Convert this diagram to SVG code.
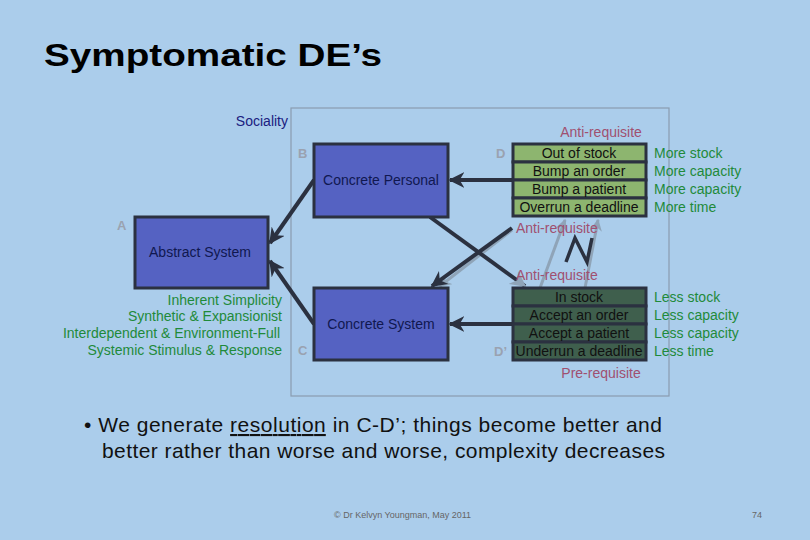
<svg xmlns="http://www.w3.org/2000/svg" width="810" height="540" viewBox="0 0 810 540">
<defs>
<style>
text{font-family:"Liberation Sans",Arial,sans-serif}
.box{fill:#5562c2;stroke:#2b3140;stroke-width:3}
.bl{font-size:14px;fill:#101850;text-anchor:middle}
.lt{font-size:13px;fill:#9aa2b0;font-weight:bold}
.gr{font-size:14px;fill:#1f8a3a}
.pk{font-size:14px;fill:#a05070}
.row1{fill:#8db56f;stroke:#2b3140;stroke-width:3}
.row2{fill:#3f5f4d;stroke:#2b3140;stroke-width:3}
.rt{font-size:14px;fill:#111;text-anchor:middle}
.ln{stroke:#2b3140;stroke-width:4;fill:none}
.lg{stroke:#8fa4b8;stroke-width:3;fill:none}
</style>
<marker id="ah" viewBox="0 0 10 10" refX="9" refY="5" markerWidth="4" markerHeight="4" orient="auto"><path d="M0,0L10,5L0,10L3,5z" fill="#2b3140"/></marker>
<marker id="ag" viewBox="0 0 10 10" refX="9" refY="5" markerWidth="4" markerHeight="4" orient="auto"><path d="M0,0L10,5L0,10L3,5z" fill="#8fa4b8"/></marker>
</defs>
<rect width="810" height="540" fill="#abcdeb"/>
<text x="44" y="66" font-size="32" font-weight="bold" fill="#000" textLength="338" lengthAdjust="spacingAndGlyphs">Symptomatic DE’s</text>
<rect x="291" y="108" width="378" height="288" fill="none" stroke="#8a9cb0" stroke-width="1.2"/>
<text x="288" y="126" font-size="14" fill="#1a2080" text-anchor="end">Sociality</text>
<g id="connectors">
<line class="lg" x1="540" y1="288" x2="565" y2="220" marker-end="url(#ag)"/>
<line class="lg" x1="585" y1="288" x2="598" y2="220" marker-end="url(#ag)"/>
<line class="lg" x1="512" y1="230" x2="440" y2="286" marker-end="url(#ag)"/>
<polyline class="ln" style="stroke-width:3.5" points="566,262 575,238 587,262 592,238"/>
<line class="ln" x1="513" y1="180" x2="450" y2="180" marker-end="url(#ah)"/>
<line class="ln" x1="513" y1="324" x2="450" y2="324" marker-end="url(#ah)"/>
<line class="ln" x1="314" y1="180" x2="270" y2="243" marker-end="url(#ah)"/>
<line class="ln" x1="314" y1="324" x2="270" y2="261" marker-end="url(#ah)"/>
<line class="ln" x1="512" y1="228" x2="432" y2="286" marker-end="url(#ah)"/>
<line class="ln" x1="430" y1="217" x2="525" y2="286" marker-end="url(#ag)"/>
</g>
<g id="A"><rect class="box" x="135" y="217" width="133" height="71"/><text class="bl" x="200" y="257">Abstract System</text><text class="lt" x="117" y="230">A</text>
<g class="gr" text-anchor="end"><text x="282" y="305">Inherent Simplicity</text><text x="282" y="321">Synthetic &amp; Expansionist</text><text x="280" y="338">Interdependent &amp; Environment-Full</text><text x="282" y="355">Systemic Stimulus &amp; Response</text></g></g>
<g id="B"><rect class="box" x="314" y="144" width="134" height="73"/><text class="bl" x="381" y="185">Concrete Personal</text><text class="lt" x="298" y="158">B</text></g>
<g id="C"><rect class="box" x="314" y="288" width="134" height="72"/><text class="bl" x="381" y="329">Concrete System</text><text class="lt" x="298" y="355">C</text></g>
<g id="D">
<text class="pk" x="601" y="137" text-anchor="middle">Anti-requisite</text>
<text class="lt" x="496" y="158">D</text>
<rect class="row1" x="513" y="144" width="133" height="18"/><rect class="row1" x="513" y="162" width="133" height="18"/><rect class="row1" x="513" y="180" width="133" height="18"/><rect class="row1" x="513" y="198" width="133" height="18"/>
<text class="rt" x="579" y="158">Out of stock</text><text class="rt" x="579" y="176">Bump an order</text><text class="rt" x="579" y="194">Bump a patient</text><text class="rt" x="579" y="212">Overrun a deadline</text>
<text class="pk" x="516" y="233">Anti-requisite</text>
<g class="gr"><text x="654" y="158">More stock</text><text x="654" y="176">More capacity</text><text x="654" y="194">More capacity</text><text x="654" y="212">More time</text></g>
</g>
<g id="Dp">
<text class="pk" x="516" y="280">Anti-requisite</text>
<text class="lt" x="494" y="356">D’</text>
<rect class="row2" x="513" y="288" width="133" height="18"/><rect class="row2" x="513" y="306" width="133" height="18"/><rect class="row2" x="513" y="324" width="133" height="18"/><rect class="row2" x="513" y="342" width="133" height="18"/>
<text class="rt" x="579" y="302">In stock</text><text class="rt" x="579" y="320">Accept an order</text><text class="rt" x="579" y="338">Accept a patient</text><text class="rt" x="579" y="356">Underrun a deadline</text>
<text class="pk" x="601" y="378" text-anchor="middle">Pre-requisite</text>
<g class="gr"><text x="654" y="302">Less stock</text><text x="654" y="320">Less capacity</text><text x="654" y="338">Less capacity</text><text x="654" y="356">Less time</text></g>
</g>
<g font-size="21" fill="#111"><text x="84" y="432" textLength="578" lengthAdjust="spacing">• We generate <tspan text-decoration="underline">resolution</tspan> in C-D’; things become better and</text><text x="102" y="458" textLength="563" lengthAdjust="spacing">better rather than worse and worse, complexity decreases</text></g>
<text x="334" y="518" font-size="9" fill="#666">© Dr Kelvyn Youngman, May 2011</text>
<text x="752" y="518" font-size="9" fill="#666">74</text>
</svg>
